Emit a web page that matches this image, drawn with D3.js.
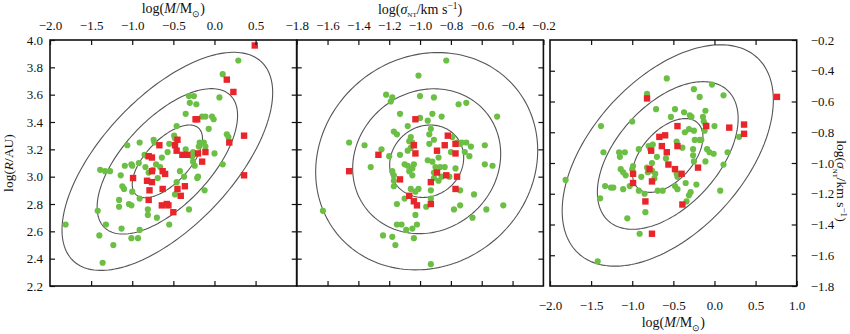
<!DOCTYPE html>
<html><head><meta charset="utf-8">
<script src="https://cdn.jsdelivr.net/npm/d3@7"></script>
<style>body{margin:0;background:#fff} text{font-family:"Liberation Serif","Times New Roman",serif;fill:#111}</style>
</head><body><svg id="c" width="850" height="334"></svg>
<script>
// ---------- data ----------
const massTicks = [-2.0,-1.5,-1.0,-0.5,0.0,0.5,1.0];
const sigmaTicks = [-1.8,-1.6,-1.4,-1.2,-1.0,-0.8,-0.6,-0.4,-0.2];
const radiusTicks = [2.2,2.4,2.6,2.8,3.0,3.2,3.4,3.6,3.8,4.0];
const contourLevels = [1,2,3];

// panel 1: log M vs log R
const p1Green = [[0.29,3.85],[0.10,3.75],[0.06,3.58],[-0.31,3.59],[-0.25,3.59],[-0.30,3.54],[-0.22,3.53],[-0.35,3.46],
[-0.15,3.44],[-0.11,3.44],[-0.03,3.44],[-0.01,3.42],[-0.07,3.35],[-0.46,3.37],[-0.49,3.30],[-0.48,3.28],[0.15,3.31],[0.17,3.29],
[-1.06,3.23],[-0.91,3.25],[-0.74,3.27],[-0.73,3.25],[-0.55,3.24],[-0.57,3.18],[-0.35,3.20],[-0.18,3.25],[-0.13,3.25],[-0.11,3.22],
[-0.19,3.22],[-0.26,3.18],[-0.27,3.15],[0.00,3.17],[-0.85,3.16],[-0.82,3.15],[-0.64,3.14],[-0.71,3.09],[-0.66,3.07],[-1.09,3.08],
[-1.01,3.09],[-1.00,3.08],[-0.92,3.10],[-0.26,3.11],[-0.24,3.08],[0.10,3.09],[-1.39,3.05],[-1.33,3.04],[-1.27,3.04],[-1.14,3.01],
[-0.84,3.07],[-0.80,3.03],[-0.75,3.05],[-0.69,2.99],[-0.42,3.04],[-0.37,3.00],[-0.21,2.99],[-0.20,3.00],[-0.46,2.96],[-1.12,2.93],
[-1.10,2.91],[-1.00,2.89],[-0.12,2.90],[-0.48,2.87],[-1.16,2.83],[-1.16,2.78],[-1.04,2.80],[-1.01,2.79],[-0.91,2.84],[-0.81,2.76],
[-0.81,2.72],[-1.42,2.75],[-0.70,2.70],[-0.31,2.76],[-1.32,2.65],[-0.55,2.65],[-1.81,2.65],[-1.40,2.57],[-1.13,2.62],[-0.91,2.61],
[-1.01,2.55],[-0.93,2.55],[-1.23,2.50],[-1.36,2.37]];
const p1Red = [[0.49,3.96],[0.15,3.71],[0.23,3.62],[0.36,3.30],[0.36,3.01],[0.18,3.25],[-0.23,3.42],[-0.21,3.42],[-0.67,3.23],
[-0.45,3.27],[-0.48,3.23],[-0.46,3.19],[-0.39,3.16],[-0.33,3.16],[-0.20,3.17],[-0.11,3.18],[-0.15,3.11],[-0.80,3.15],[-0.76,3.14],
[-0.76,3.04],[-0.63,3.04],[-0.60,3.02],[-0.99,2.99],[-0.82,2.97],[-0.76,2.96],[-0.79,2.90],[-0.63,2.91],[-0.45,2.91],[-0.36,2.93],
[-0.41,2.86],[-0.80,2.83],[-0.64,2.79],[-0.58,2.80],[-0.56,2.79],[-0.50,2.74]];

// panel 2: log sigma_NT vs log R
const p2Green = [[-0.83,3.85],[-1.01,3.74],[-1.22,3.60],[-1.18,3.58],[-1.19,3.55],[-1.00,3.59],[-0.91,3.58],[-0.75,3.53],[-0.70,3.54],
[-1.13,3.46],[-0.92,3.46],[-1.00,3.43],[-0.95,3.41],[-0.86,3.44],[-0.50,3.44],[-1.08,3.37],[-0.93,3.35],[-1.17,3.33],[-1.15,3.31],
[-1.06,3.29],[-0.94,3.31],[-0.91,3.27],[-1.07,3.26],[-1.05,3.25],[-0.94,3.24],[-0.79,3.29],[-0.76,3.25],[-0.74,3.24],[-0.73,3.25],
[-0.70,3.25],[-0.67,3.22],[-0.71,3.18],[-0.68,3.15],[-0.58,3.23],[-1.46,3.25],[-1.36,3.23],[-1.25,3.20],[-1.20,3.15],[-1.13,3.16],
[-1.08,3.19],[-1.06,3.21],[-0.80,3.18],[-0.88,3.14],[-0.95,3.12],[-0.92,3.11],[-1.32,3.07],[-1.10,3.09],[-1.08,3.08],[-1.04,3.09],
[-1.05,3.06],[-1.07,3.04],[-1.05,3.01],[-1.18,3.04],[-1.17,3.01],[-1.17,2.97],[-1.17,2.93],[-0.91,3.03],[-0.90,3.07],[-0.87,3.07],
[-0.84,3.07],[-0.91,2.99],[-0.88,2.97],[-0.86,3.00],[-0.81,3.00],[-0.77,3.06],[-1.06,2.91],[-1.03,2.89],[-1.01,2.91],[-0.93,2.90],
[-0.74,2.90],[-1.15,2.80],[-1.10,2.84],[-0.96,2.78],[-0.93,2.84],[-0.65,2.87],[-0.74,2.79],[-0.78,2.76],[-0.57,2.76],[-0.46,2.79],
[-0.66,2.70],[-0.58,3.09],[-0.53,3.08],[-1.63,2.75],[-1.03,2.72],[-1.15,2.65],[-1.12,2.65],[-1.09,2.61],[-1.05,2.62],[-1.02,2.65],
[-1.04,2.55],[-1.24,2.57],[-1.18,2.56],[-1.16,2.50],[-0.93,2.36]];
const p2Red = [[-1.03,3.42],[-0.82,3.30],[-1.04,3.23],[-1.03,3.17],[-0.89,3.19],[-0.84,3.23],[-0.77,3.24],[-0.77,3.17],[-1.27,3.16],
[-1.46,3.04],[-1.13,2.98],[-0.89,3.03],[-0.83,3.01],[-0.76,3.00],[-0.93,2.96],[-0.77,2.91],[-1.07,2.86],[-1.04,2.82],[-1.02,2.79],[-0.93,2.80]];

// panel 3: log M vs log sigma_NT
const p3Green = [[-0.58,-0.45],[-0.03,-0.49],[-0.25,-0.52],[-0.18,-0.57],[0.11,-0.56],[-0.82,-0.55],[-0.71,-0.65],[-0.48,-0.65],
[-0.37,-0.67],[-0.30,-0.69],[-0.28,-0.70],[-0.53,-0.70],[-0.11,-0.66],[-0.14,-0.70],[-0.13,-0.73],[-0.11,-0.75],[-0.12,-0.79],
[0.00,-0.76],[-1.00,-0.73],[-1.38,-0.76],[-0.36,-0.80],[-0.31,-0.78],[-0.25,-0.79],[-0.24,-0.85],[-0.18,-0.85],[-0.16,-0.85],
[0.30,-0.83],[-0.46,-0.86],[-0.39,-0.90],[-0.26,-0.91],[-0.26,-0.95],[-0.09,-0.91],[-0.06,-0.93],[-0.01,-0.94],[0.16,-0.93],
[-0.92,-0.91],[-0.80,-0.89],[-0.75,-0.88],[-0.78,-0.91],[-1.35,-0.93],[-1.16,-0.93],[-1.09,-0.93],[-1.15,-0.96],[-0.59,-0.97],
[-0.70,-0.96],[-0.25,-0.99],[-0.11,-0.99],[0.11,-1.01],[-1.14,-1.04],[-1.11,-1.06],[-1.08,-1.08],[-0.99,-1.02],[-1.00,-1.04],
[-0.82,-1.03],[-0.76,-1.00],[-0.76,-1.05],[-0.72,-1.07],[-0.81,-1.06],[-0.73,-1.10],[-0.89,-1.09],[-0.46,-1.07],[-0.45,-1.09],
[-0.35,-1.13],[-0.22,-1.14],[-1.33,-1.15],[-1.26,-1.16],[-1.23,-1.16],[-1.11,-1.17],[-1.03,-1.15],[-0.92,-1.18],[-0.85,-1.20],
[-0.69,-1.18],[-0.63,-1.18],[-0.48,-1.15],[-0.45,-1.17],[-0.29,-1.19],[-0.31,-1.21],[-0.34,-1.25],[0.07,-1.18],[-1.39,-1.23],
[-0.84,-1.32],[-1.06,-1.36],[-0.91,-1.46],[-1.81,-1.11],[-1.42,-1.64]];
const p3Red = [[-0.82,-0.58],[0.76,-0.57],[-0.45,-0.76],[-0.10,-0.76],[0.18,-0.77],[0.36,-0.75],[0.36,-0.81],[-0.67,-0.83],
[-0.60,-0.82],[-0.45,-0.89],[-0.64,-0.89],[-0.77,-0.92],[-0.58,-0.93],[-0.56,-1.01],[-0.79,-1.04],[-0.20,-1.03],[-0.48,-1.04],
[-0.40,-1.07],[-0.99,-1.07],[-0.99,-1.13],[-0.76,-1.12],[-0.84,-1.25],[-0.39,-1.27],[-0.76,-1.46]];

// Gaussian contour parameters: [meanX, meanY, sigmaX, sigmaY, rho]
const p1Gauss = [-0.573, 3.112, 0.427, 0.266, 0.63];
const p2Gauss = [-0.957, 3.113, 0.240, 0.265, 0.10];
const p3Gauss = [-0.568, -0.951, 0.428, 0.240, 0.50];

// ---------- drawing ----------
const svg = d3.select("#c");
const W = 246.7, TOP = 40, BOT = 286;
const X1 = 50, X2 = 50 + W, X3 = 550;
const GREEN = "#6cbf45", RED = "#e8252a", ELL = "#555";
const FONT = '"Liberation Serif","Times New Roman",serif';
const fmt = d3.format(".1f");

const xM1 = d3.scaleLinear().domain([-2, 1]).range([X1, X1 + W]);
const xS2 = d3.scaleLinear().domain([-1.8, -0.2]).range([X2, X2 + W]);
const xM3 = d3.scaleLinear().domain([-2, 1]).range([X3, X3 + W]);
const yR = d3.scaleLinear().domain([2.2, 4.0]).range([BOT, TOP]);
const yS = d3.scaleLinear().domain([-1.8, -0.2]).range([BOT, TOP]);

function axes(g, xs, ys, xt, yt, show) {
  const mk = (axisFn, scale, ticks, lab, pad) => axisFn(scale).tickValues(ticks)
      .tickSizeInner(-5).tickSizeOuter(0).tickPadding(pad)
      .tickFormat(lab ? (d => fmt(d)) : (() => ""));
  const [x0, x1] = xs.range(), [y1, y0] = ys.range();
  const defs = [
    [d3.axisTop, xs, show.top || xt.slice(1, -1), !!show.top, 10, `translate(0,${y0})`],
    [d3.axisBottom, xs, show.bottom || xt.slice(1, -1), !!show.bottom, 15, `translate(0,${y1})`],
    [d3.axisLeft, ys, show.left || yt.slice(1, -1), !!show.left, 7, `translate(${x0},0)`],
    [d3.axisRight, ys, show.right || yt.slice(1, -1), !!show.right, 14, `translate(${x1},0)`]
  ];
  defs.forEach(([fn, sc, tv, lab, pad, tr]) => {
    const a = g.append("g").attr("transform", tr).call(mk(fn, sc, tv, lab, pad));
    a.attr("font-family", FONT).attr("font-size", 13);
  });
  g.selectAll(".domain").remove();
  g.selectAll(".tick line").attr("stroke", "#111").attr("stroke-width", 1.2);
  g.selectAll(".tick text").attr("fill", "#111");
}

function ellipse(g, xs, ys, p) {
  const [mx, my, sx, sy, r] = p;
  const line = d3.line().x(d => xs(d[0])).y(d => ys(d[1])).curve(d3.curveLinearClosed);
  contourLevels.forEach(k => {
    const pts = d3.range(0, 360, 2).map(a => {
      const t = a * Math.PI / 180;
      return [mx + k * sx * Math.cos(t), my + k * sy * (r * Math.cos(t) + Math.sqrt(1 - r * r) * Math.sin(t))];
    });
    g.append("path").attr("d", line(pts)).attr("fill", "none").attr("stroke", ELL).attr("stroke-width", 1.1);
  });
}

function points(g, xs, ys, green, red) {
  g.append("g").selectAll("circle").data(green).join("circle")
    .attr("cx", d => xs(d[0])).attr("cy", d => ys(d[1])).attr("r", 3.1).attr("fill", GREEN);
  const s = 6.4;
  g.append("g").selectAll("rect").data(red).join("rect")
    .attr("x", d => xs(d[0]) - s / 2).attr("y", d => ys(d[1]) - s / 2)
    .attr("width", s).attr("height", s).attr("fill", RED);
}

function panel(xs, ys, green, red, gauss, xt, yt, show) {
  const g = svg.append("g");
  const [x0, x1] = xs.range();
  g.append("clipPath").attr("id", "cp" + Math.round(x0)).append("rect")
    .attr("x", x0).attr("y", TOP).attr("width", x1 - x0).attr("height", BOT - TOP);
  const inner = g.append("g").attr("clip-path", `url(#cp${Math.round(x0)})`);
  ellipse(inner, xs, ys, gauss);
  points(inner, xs, ys, green, red);
  axes(g, xs, ys, xt, yt, show);
  g.append("rect").attr("x", x0).attr("y", TOP).attr("width", x1 - x0).attr("height", BOT - TOP)
    .attr("fill", "none").attr("stroke", "#111").attr("stroke-width", 1.6);
}

panel(xM1, yR, p1Green, p1Red, p1Gauss, massTicks, radiusTicks,
  {top: massTicks.slice(0, 6), left: radiusTicks});
panel(xS2, yR, p2Green, p2Red, p2Gauss, sigmaTicks, radiusTicks,
  {top: sigmaTicks});
panel(xM3, yS, p3Green, p3Red, p3Gauss, massTicks, sigmaTicks,
  {bottom: massTicks, right: sigmaTicks});

// ---------- titles ----------
function rich(x, y, rot, parts, fs) {
  const t = svg.append("text").attr("text-anchor", "middle")
    .attr("font-family", FONT).attr("font-size", fs)
    .attr("transform", `translate(${x},${y}) rotate(${rot})`);
  let shift = 0;
  parts.forEach(p => {
    const target = p.sub ? fs * 0.28 : p.sup ? -fs * 0.33 : 0;
    const ts = t.append("tspan").text(p.t).attr("dy", (target - shift).toFixed(2));
    shift = target;
    if (p.i) ts.style("font-style", "italic");
    if (p.sub || p.sup) ts.attr("font-size", fs * (p.small || 0.68));
  });
  return t;
}
const massLabel = [{t:"log("},{t:"M",i:true},{t:"/M"},{t:"⊙",sub:true,small:0.62},{t:")"}];
const sigmaLabel = [{t:"log("},{t:"σ",i:true},{t:"NT",sub:true,small:0.5},{t:"/km s"},{t:"−1",sup:true},{t:")"}];
const radiusLabel = [{t:"log("},{t:"R",i:true},{t:"/AU)"}];

rich(X1 + W / 2, 13, 0, massLabel, 14);
rich(X2 + W / 2, 13.5, 0, sigmaLabel, 14);
rich(X3 + W / 2, 327, 0, massLabel, 14);
rich(13, (TOP + BOT) / 2, -90, radiusLabel, 13.5);
rich(837, 181, 90, sigmaLabel, 13.5);
</script></body></html>
